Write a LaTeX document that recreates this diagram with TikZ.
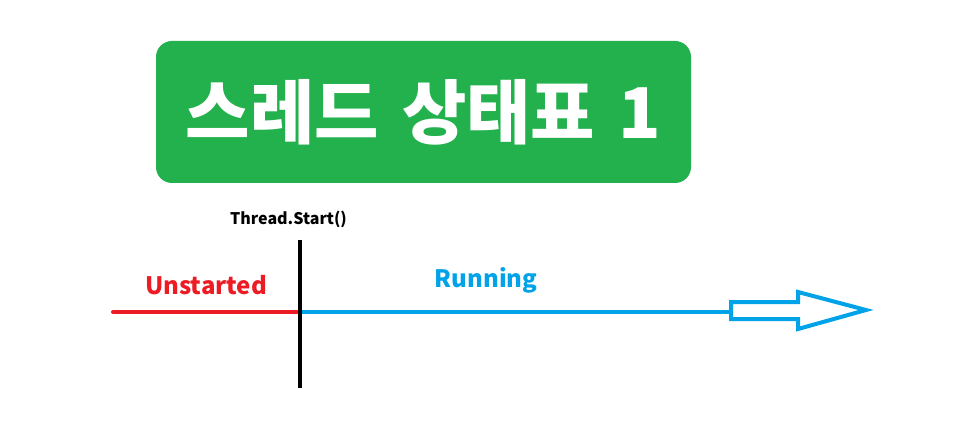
\documentclass[tikz,border=0pt]{standalone}
\usepackage{fontspec}
\setmainfont{Noto Sans}
\newfontfamily\kr{Noto Sans CJK KR}
\definecolor{pgreen}{HTML}{22B14C}
\definecolor{pred}{HTML}{ED1C24}
\definecolor{pblue}{HTML}{00A2E8}
\tikzset{
  lbl/.style={inner sep=0pt, anchor=center},
  ln/.style={line width=4pt},
}
\begin{document}
\begin{tikzpicture}[x=1pt,y=-1pt]
\useasboundingbox[fill=white] (0,0) rectangle (955,438);
\node[fill=pgreen, rounded corners=16pt, minimum width=535pt, minimum height=142pt, inner sep=0pt, text=white, font=\kr\bfseries\fontsize{70}{72}\selectfont] (title) at (423.5,112) {스레드\hspace{0.1em} 상태표\hspace{0.1em} 1};
\node[lbl, font=\kr\bfseries\fontsize{16}{18}\selectfont] (call) at (288.5,219) {Thread.Start()};
\node[lbl, text=pred, font=\kr\bfseries\fontsize{24}{26}\selectfont] (unst) at (206,285) {Unstarted};
\node[lbl, text=pblue, font=\kr\bfseries\fontsize{24}{26}\selectfont] (run) at (486,280) {Running};
\coordinate (a) at (113,312);
\coordinate (m) at (300,312);
\coordinate (b) at (731,312);
\coordinate (vt) at (300,240);
\coordinate (vb) at (300,388);
\draw[ln, pred, line cap=round] (a) -- (m);
\draw[ln, pblue] (m) -- (b);
\draw[ln, black] (vt) -- (vb);
\draw[ln, pblue, line join=miter] (731,302) -- (798,302) -- (798,292) -- (866,310) -- (798,329) -- (798,319) -- (731,319) -- cycle;
\end{tikzpicture}
\end{document}
